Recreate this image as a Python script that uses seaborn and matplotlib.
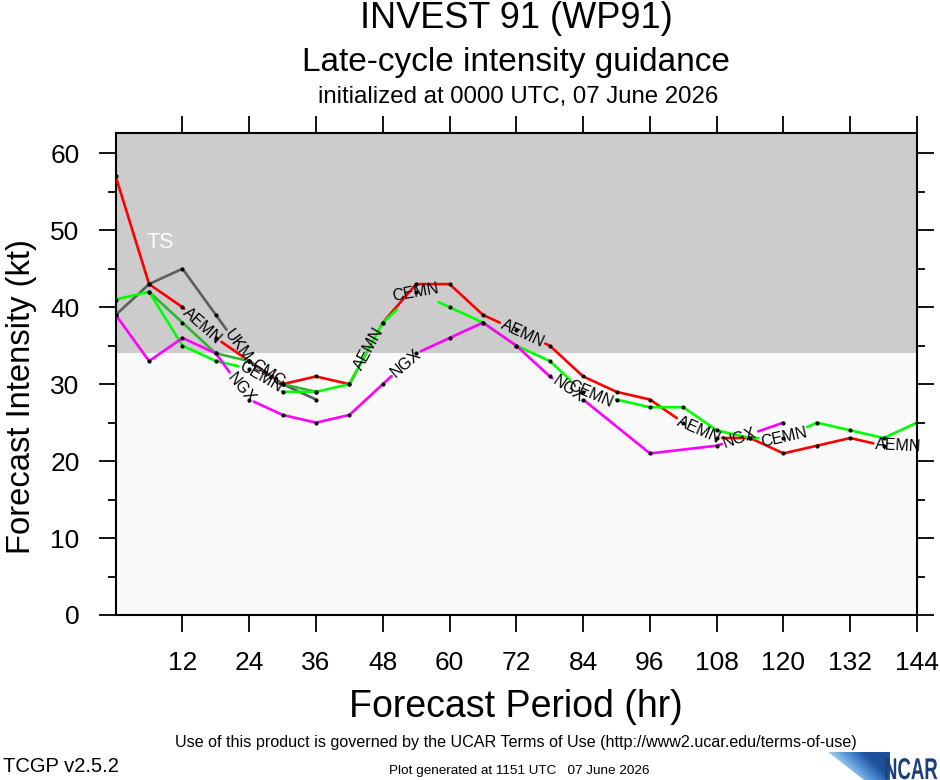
import numpy as np
import pandas as pd
import seaborn as sns
import matplotlib.pyplot as plt
from matplotlib.patches import PathPatch, Polygon
from matplotlib.textpath import TextPath
from matplotlib.font_manager import FontProperties
from matplotlib.transforms import Affine2D

# forecast hours and model intensities (kt), None = no forecast
hours = list(range(0, 145, 6))
aemn = [57, 43, 40, 36, 33, 30, 31, 30, 38, 43, 43, 39, 37, 35, 31, 29, 28, 25, 23, 23, 21, 22, 23, 22, 22]
cemn = [41, 42, 35, 33, 32, 29, 29, 30, 38, 42, 40, 38, 35, 33, 29, 28, 27, 27, 24, 23, 23, 25, 24, 23, 25]
ngx = [39, 33, 36, 34, 28, 26, 25, 26, 30, 34, 36, 38, 35, 31, 28, None, 21, None, 22, None, 25,
       None, None, None, None]
ukm = [39, 43, 45, 39, 33, 30, 28] + [None] * 18
cmc = [None, 42, 38, 34, 33, 30, 29] + [None] * 18

models = ["AEMN", "UKM", "CMC", "CEMN", "NGX"]  # drawing order
series = {"AEMN": aemn, "UKM": ukm, "CMC": cmc, "CEMN": cemn, "NGX": ngx}
colors = {"AEMN": "#ff0000", "UKM": "#5e5e5e", "CMC": "#2fb52f",
          "CEMN": "#00ff00", "NGX": "#ff00ff"}
# where the in-line model labels sit (forecast hour of label centre)
label_hours = {"AEMN": [15.6, 45.5, 73.1, 104.8, 140.6],
               "UKM": [22.0],
               "CMC": [27.3],
               "CEMN": [26.1, 53.9, 85.4, 120.1],
               "NGX": [22.5, 52.1, 81.3, 112.2]}

ts_threshold = 34
ymax = 62.6

sns.set_theme(style="white")
plt.rcParams['font.family'] = ['Liberation Sans', 'DejaVu Sans']
plt.rcParams.update({"text.color": "black", "axes.labelcolor": "black",
                     "xtick.color": "black", "ytick.color": "black"})

W, H = 940, 780
fig = plt.figure(figsize=(W / 100, H / 100), dpi=100)
ax = fig.add_axes([115.7 / W, 1 - 615 / H, 801.3 / W, 481.7 / H])
ax.set_xlim(0, 144)
ax.set_ylim(0, ymax)
ax.set_facecolor("#fafafa")
ax.axhspan(ts_threshold, ymax, color="#cccccc", zorder=0, lw=0)
ax.text(8, 48.4, "TS", color="white", fontsize=15.5, ha="center", va="center")

renderer = fig.canvas.get_renderer()
to_disp = ax.transData
to_data = ax.transData.inverted()
label_size = 11.5


def text_width(s):
    t = ax.text(0, 0, s, fontsize=label_size)
    w = t.get_window_extent(renderer).width
    t.remove()
    return w


rows = []
labels = []
for m in models:
    df = pd.DataFrame({"hour": hours, "kt": series[m]}).dropna()
    t = df["hour"].to_numpy(float)
    v = df["kt"].to_numpy(float)
    pts = to_disp.transform(np.column_stack([t, v]))
    s = np.concatenate([[0], np.cumsum(np.hypot(*np.diff(pts, axis=0).T))])
    gap = text_width(m) + 4

    def at(sv):
        return np.array([np.interp(sv, s, pts[:, 0]), np.interp(sv, s, pts[:, 1])])

    cuts = []
    for tc in label_hours[m]:
        sc = np.interp(tc, t, s)
        a, b = max(sc - gap / 2, 0), min(sc + gap / 2, s[-1])
        cuts.append((a, b))
        p1, p2, pc = at(a), at(b), at(sc)
        ang = np.degrees(np.arctan2(p2[1] - p1[1], p2[0] - p1[0]))
        labels.append((to_data.transform(pc), ang, m))
    keep = []
    lo = 0.0
    for a, b in cuts:
        keep.append((lo, a))
        lo = b
    keep.append((lo, s[-1]))
    for k, (lo, hi) in enumerate(keep):
        if hi - lo < 0.5:
            continue
        inner = [pts[i] for i in range(len(s)) if lo < s[i] < hi]
        seg = np.array([at(lo)] + inner + [at(hi)])
        seg = to_data.transform(seg)
        for x, y in seg:
            rows.append({"model": m, "piece": f"{m}{k}", "hour": x, "kt": y})

lines = pd.DataFrame(rows)
for m in models:
    sns.lineplot(data=lines[lines["model"] == m], x="hour", y="kt", units="piece",
                 estimator=None, sort=False, color=colors[m], linewidth=1.9,
                 legend=False, ax=ax, zorder=3)

pts_df = pd.DataFrame([{"hour": h, "kt": val} for m in models
                       for h, val in zip(hours, series[m]) if val is not None])
sns.scatterplot(data=pts_df, x="hour", y="kt", color="black", s=9, linewidth=0,
                ax=ax, zorder=4)

for (x, y), ang, m in labels:
    ax.text(x, y, m, fontsize=label_size, rotation=ang, rotation_mode="anchor",
            ha="center", va="center", color="black", zorder=5)

ax.set_xticks(range(12, 145, 12))
ax.set_yticks(range(0, 61, 10))
ax.set_yticks(range(5, 61, 10), minor=True)
ax.tick_params(which="both", direction="out", top=True, right=True, bottom=True,
               left=True, labeltop=False, labelright=False, color="black", width=1.3)
ax.tick_params(which="major", length=12, labelsize=19, pad=14)
ax.tick_params(which="minor", length=6)
for sp in ax.spines.values():
    sp.set_color("black")
    sp.set_linewidth(1.5)

ax.set_xlabel("Forecast Period (hr)", fontsize=27, va="center")
ax.xaxis.set_label_coords(0.5, (615 - 707) / 481.7)
ax.set_ylabel("Forecast Intensity (kt)", fontsize=23.6, va="center")
ax.yaxis.set_label_coords((22 - 115.7) / 801.3, (615 - 397) / 481.7)

cx = 516 / W
fig.text(cx, 1 - 18 / H, "INVEST 91 (WP91)", fontsize=26, ha="center", va="center")
fig.text(cx, 1 - 62 / H, "Late-cycle intensity guidance", fontsize=24, ha="center", va="center")
fig.text(cx + 2 / W, 1 - 97 / H, "initialized at 0000 UTC, 07 June 2026", fontsize=17.3,
         ha="center", va="center")
fig.text(cx, 1 - 742 / H,
         "Use of this product is governed by the UCAR Terms of Use (http://www2.ucar.edu/terms-of-use)",
         fontsize=11.6, ha="center", va="center")
fig.text(3 / W, 1 - 767 / H, "TCGP v2.5.2", fontsize=14.5, ha="left", va="center")
fig.text(519 / W, 1 - 771 / H, "Plot generated at 1151 UTC   07 June 2026", fontsize=9.7,
         ha="center", va="center")

# NCAR logo
lax = fig.add_axes([820 / W, 0, 120 / W, 30 / H])
lax.set_xlim(0, 120)
lax.set_ylim(0, 30)
lax.axis("off")
gx = np.linspace(0, 1, 120)
gy = np.linspace(0, 1, 40)
grad = np.clip(gx[None, :] * 1.1 + gy[:, None] * 0.5 - 0.15, 0, 1)
cmap = sns.blend_palette(["#fde7cf", "#a9d0f0", "#4f90d6", "#1d4f9a"], as_cmap=True)
im = lax.imshow(grad, extent=[8, 70, 0, 28], origin="lower", cmap=cmap, aspect="auto")
clip = Polygon([[8, 28], [70, 28], [70, 0], [44, 0], [26, 14]], closed=True,
               transform=lax.transData)
im.set_clip_path(clip)
tp = TextPath((0, 0), "NCAR", size=30, prop=FontProperties(family="Liberation Sans", weight="bold"))
tp = Affine2D().scale(0.62, 1.0).translate(64, 1).transform_path(tp)
lax.add_patch(PathPatch(tp, color="#1c3f7c", lw=0))

fig.savefig("out.png", dpi=100, facecolor="white")
